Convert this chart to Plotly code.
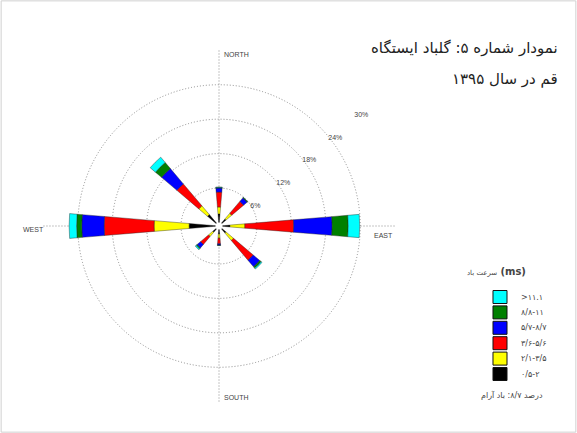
import plotly.graph_objects as go

directions = ["N", "NE", "E", "SE", "S", "SW", "W", "NW"]
theta_deg = [0, 45, 90, 135, 180, 225, 270, 315]

speed_labels = ["۰/۵-۲", "۲/۱-۳/۵", "۳/۶-۵/۶", "۵/۷-۸/۷", "۸/۸-۱۱", ">۱۱.۱"]
speed_colors = ["#000000", "#FFFF00", "#FF0000", "#0000FF", "#008000", "#00FFFF"]

# percentage frequency per direction, one list per speed class (inner -> outer)
class_0 = [1.5, 1.0, 1.3, 1.0, 0.8, 0.8, 4.6, 2.0]
class_1 = [1.2, 1.3, 2.6, 1.7, 0.7, 1.0, 6.1, 2.0]
class_2 = [2.6, 2.7, 8.5, 4.5, 1.0, 1.8, 8.7, 5.0]
class_3 = [0.7, 0.8, 6.7, 1.5, 0.2, 0.8, 3.9, 3.5]
class_4 = [0.1, 0.1, 2.8, 0.3, 0.05, 0.2, 0.9, 1.4]
class_5 = [0.1, 0.05, 2.0, 0.2, 0.05, 0.2, 1.3, 1.2]
series = [class_0, class_1, class_2, class_3, class_4, class_5]

ring_ticks = [6, 12, 18, 24, 30]
ring_labels = ["6%", "12%", "18%", "24%", "30%"]
legend_title = "سرعت باد"
calm_text = "درصد ۸/۷: باد آرام"
title_line1 = "نمودار شماره ۵: گلباد ایستگاه"
title_line2 = "قم در سال ۱۳۹۵"

GRID = "#8c8c8c"
TXT = "#444444"

fig = go.Figure()
for vals, lab, col in zip(series, speed_labels, speed_colors):
    fig.add_trace(go.Barpolar(
        r=vals, theta=theta_deg, width=9.5, name=lab,
        marker=dict(color=col, line=dict(color="#222222", width=0.4)),
    ))

fig.update_layout(
    width=577, height=433,
    margin=dict(l=0, r=0, t=0, b=0),
    paper_bgcolor="white",
    plot_bgcolor="white",
    font=dict(family="Liberation Sans, Arial, sans-serif", color=TXT),
    showlegend=False,
    polar=dict(
        domain=dict(x=[0.0745, 0.6846], y=[0.0716, 0.8845]),
        bgcolor="white",
        hole=0.02,
        barmode="stack",
        radialaxis=dict(
            range=[0, 30.05], tickmode="array", tickvals=ring_ticks, ticktext=ring_labels,
            showline=False, ticks="", angle=41, tickangle=41,
            showgrid=True, gridcolor=GRID, griddash="1px,2px", gridwidth=1,
            tickfont=dict(size=7, color=TXT),
        ),
        angularaxis=dict(
            direction="clockwise", rotation=90,
            tickvals=[0, 90, 180, 270], showticklabels=False, ticks="",
            showline=False,
            showgrid=True, gridcolor=GRID, griddash="1px,2px", gridwidth=1,
        ),
    ),
)

annotations = [
    dict(text=title_line1, x=0.97, y=0.888, xref="paper", yref="paper",
         xanchor="right", yanchor="middle", showarrow=False,
         font=dict(size=15, color="#222222", family="DejaVu Sans")),
    dict(text=title_line2, x=0.97, y=0.818, xref="paper", yref="paper",
         xanchor="right", yanchor="middle", showarrow=False,
         font=dict(size=15, color="#222222", family="DejaVu Sans")),
    dict(text=calm_text, x=0.945, y=0.088, xref="paper", yref="paper",
         xanchor="right", yanchor="middle", showarrow=False,
         font=dict(size=8, color=TXT, family="DejaVu Sans")),
    dict(text="<span style='font-size:7px'>" + legend_title + "</span> <b>(ms)</b>",
         x=0.86, y=0.372, xref="paper", yref="paper",
         xanchor="center", yanchor="middle", showarrow=False,
         font=dict(size=10, color=TXT, family="DejaVu Sans")),
    dict(text="NORTH", x=0.384, y=0.874, xref="paper", yref="paper",
         xanchor="left", yanchor="middle", showarrow=False,
         font=dict(size=7, color=TXT)),
    dict(text="SOUTH", x=0.384, y=0.083, xref="paper", yref="paper",
         xanchor="left", yanchor="middle", showarrow=False,
         font=dict(size=7, color=TXT)),
    dict(text="WEST", x=0.08, y=0.471, xref="paper", yref="paper",
         xanchor="right", yanchor="middle", showarrow=False,
         font=dict(size=7, color=TXT)),
    dict(text="EAST", x=0.684, y=0.457, xref="paper", yref="paper",
         xanchor="right", yanchor="middle", showarrow=False,
         font=dict(size=7, color=TXT)),
]

# legend swatches (outermost class first, top to bottom)
leg_y0 = 1 - 297 / 433
leg_step = 15.4 / 433
half = 6.5 / 433
shapes = []
for i, (lab, col) in enumerate(zip(reversed(speed_labels), reversed(speed_colors))):
    yc = leg_y0 - i * leg_step
    shapes.append(dict(type="rect", xref="paper", yref="paper",
                       x0=0.8544, x1=0.8787, y0=yc - half, y1=yc + half,
                       fillcolor=col, line=dict(color="#111111", width=1)))
    annotations.append(dict(text=lab, x=0.899, y=yc, xref="paper", yref="paper",
                            xanchor="left", yanchor="middle", showarrow=False,
                            font=dict(size=8, color=TXT, family="DejaVu Sans")))

shapes.append(dict(type="rect", xref="paper", yref="paper", x0=0.002, y0=0.002,
                   x1=0.998, y1=0.998, line=dict(color="#d0d0d0", width=1)))
fig.update_layout(annotations=annotations, shapes=shapes)

fig.write_html("out.html", config={"displayModeBar": False},
               post_script="document.body.style.margin='0px';")
